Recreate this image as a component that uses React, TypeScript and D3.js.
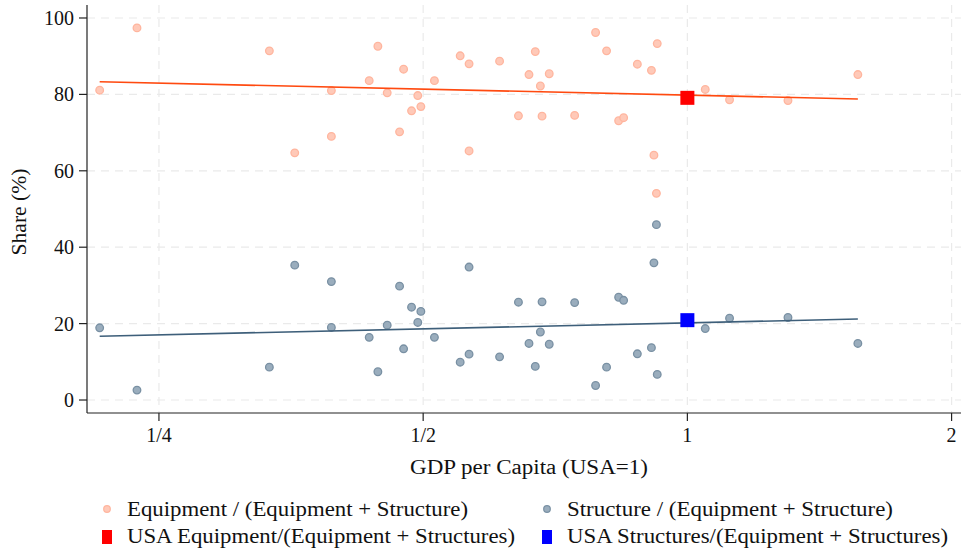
import React from 'react';
import * as d3 from 'd3';

// GDP per capita relative to USA, one entry per country
const gdp = [
  0.214, 0.236, 0.334, 0.357, 0.393, 0.393, 0.434, 0.444, 0.455, 0.47, 0.475, 0.485, 0.493,
  0.497, 0.515, 0.551, 0.564, 0.564, 0.611, 0.671, 0.66, 0.696, 0.68, 0.642, 0.683, 0.744,
  0.786, 0.809, 0.877, 0.91, 0.924, 0.835, 0.846, 0.916, 0.922, 1.048, 1.117, 1.302, 1.564,
];
const equipShare = [
  81.1, 97.4, 91.4, 64.7, 81.0, 69.0, 83.6, 92.6, 80.4, 70.2, 86.6, 75.7, 79.7,
  76.8, 83.6, 90.1, 88.0, 65.2, 88.7, 91.2, 85.2, 85.4, 82.2, 74.4, 74.3, 74.5,
  96.2, 91.4, 87.9, 86.3, 93.3, 73.1, 73.9, 64.1, 54.1, 81.3, 78.6, 78.4, 85.2,
];
const structShare = [
  18.9, 2.6, 8.6, 35.3, 19.0, 31.0, 16.4, 7.4, 19.6, 29.8, 13.4, 24.3, 20.3,
  23.2, 16.4, 9.9, 12.0, 34.8, 11.3, 8.8, 14.8, 14.6, 17.8, 25.6, 25.7, 25.5,
  3.8, 8.6, 12.1, 13.7, 6.7, 26.9, 26.1, 35.9, 45.9, 18.7, 21.4, 21.6, 14.8,
];
const usa = { gdp: 1, equip: 79.1, struct: 20.9 };
const fitX = [0.214, 1.564];
const equipFit = [83.3, 78.8];
const structFit = [16.7, 21.2];

const xTicks = [0.25, 0.5, 1, 2];
const xTickLabels = ['1/4', '1/2', '1', '2'];
const yTicks = [0, 20, 40, 60, 80, 100];

const FONT = '"Liberation Serif", "DejaVu Serif", serif';

const App = () => {
  const width = 961;
  const height = 552;
  const left = 87, right = 961, top = 5, bottom = 413;

  const x = d3.scaleLog().base(2).domain([0.207, 2.05]).range([left, right]);
  const y = d3.scaleLinear().domain([-3.4, 103.4]).range([bottom, top]);

  const line = d3.line<[number, number]>().x(d => x(d[0])).y(d => y(d[1]));
  const equipLine = line(fitX.map((v, i) => [v, equipFit[i]] as [number, number]));
  const structLine = line(fitX.map((v, i) => [v, structFit[i]] as [number, number]));

  const equipFill = '#FFC9B8', equipStroke = '#FFB59E';
  const structFill = '#9AADBD', structStroke = '#7990A3';

  return (
    <svg width={width} height={height} style={{ position: 'absolute', left: 0, top: 0, background: '#fff' }}
      fontFamily={FONT}>
      {/* grid */}
      {yTicks.map(t => (
        <line key={'gy' + t} x1={left} x2={right} y1={y(t)} y2={y(t)} stroke="#EAEAEA" strokeWidth={1.2} strokeDasharray="8,6" />
      ))}
      {xTicks.map(t => (
        <line key={'gx' + t} x1={x(t)} x2={x(t)} y1={top} y2={bottom} stroke="#EAEAEA" strokeWidth={1.2} strokeDasharray="8,6" />
      ))}

      {/* axes */}
      <line x1={left} x2={left} y1={top} y2={bottom} stroke="#222" strokeWidth={1.2} />
      <line x1={left} x2={right} y1={bottom} y2={bottom} stroke="#222" strokeWidth={1.2} />
      {yTicks.map(t => (
        <g key={'ty' + t}>
          <line x1={left - 8} x2={left} y1={y(t)} y2={y(t)} stroke="#222" strokeWidth={1.2} />
          <text x={left - 13} y={y(t)} dy="0.35em" textAnchor="end" fontSize={20} fill="#111">{t}</text>
        </g>
      ))}
      {xTicks.map((t, i) => (
        <g key={'tx' + t}>
          <line x1={x(t)} x2={x(t)} y1={bottom} y2={bottom + 8} stroke="#222" strokeWidth={1.2} />
          <text x={x(t)} y={bottom + 29} textAnchor="middle" fontSize={20} fill="#111">{xTickLabels[i]}</text>
        </g>
      ))}
      <text x={410} y={474} fontSize={20} fill="#111" textLength={238} lengthAdjust="spacingAndGlyphs">GDP per Capita (USA=1)</text>
      <text transform="translate(26,212) rotate(-90)" textAnchor="middle" fontSize={20} fill="#111"
        textLength={87} lengthAdjust="spacingAndGlyphs">Share (%)</text>

      {/* points */}
      {gdp.map((g, i) => (
        <circle key={'e' + i} cx={x(g)} cy={y(equipShare[i])} r={3.8} fill={equipFill} stroke={equipStroke} strokeWidth={1.3} />
      ))}
      {gdp.map((g, i) => (
        <circle key={'s' + i} cx={x(g)} cy={y(structShare[i])} r={3.8} fill={structFill} stroke={structStroke} strokeWidth={1.3} />
      ))}

      {/* fit lines */}
      <path d={equipLine ?? ''} fill="none" stroke="#FF4A10" strokeWidth={1.6} />
      <path d={structLine ?? ''} fill="none" stroke="#3E5F7A" strokeWidth={1.6} />

      {/* USA markers */}
      <rect x={x(usa.gdp) - 7} y={y(usa.equip) - 7} width={14} height={14} fill="#FF0000" />
      <rect x={x(usa.gdp) - 7} y={y(usa.struct) - 7} width={14} height={14} fill="#0000FF" />

      {/* legend */}
      <circle cx={107} cy={509} r={3.3} fill={equipFill} stroke={equipStroke} strokeWidth={1.2} />
      <text x={127} y={516} fontSize={20} fill="#111" textLength={341} lengthAdjust="spacingAndGlyphs">Equipment / (Equipment + Structure)</text>
      <circle cx={547} cy={509} r={3.3} fill={structFill} stroke={structStroke} strokeWidth={1.2} />
      <text x={567} y={516} fontSize={20} fill="#111" textLength={326} lengthAdjust="spacingAndGlyphs">Structure / (Equipment + Structure)</text>
      <rect x={102} y={530} width={10} height={14} fill="#FF0000" />
      <text x={127} y={543} fontSize={20} fill="#111" textLength={388} lengthAdjust="spacingAndGlyphs">USA Equipment/(Equipment + Structures)</text>
      <rect x={542} y={530} width={10} height={14} fill="#0000FF" />
      <text x={567} y={543} fontSize={20} fill="#111" textLength={381} lengthAdjust="spacingAndGlyphs">USA Structures/(Equipment + Structures)</text>
    </svg>
  );
};

export default App;
